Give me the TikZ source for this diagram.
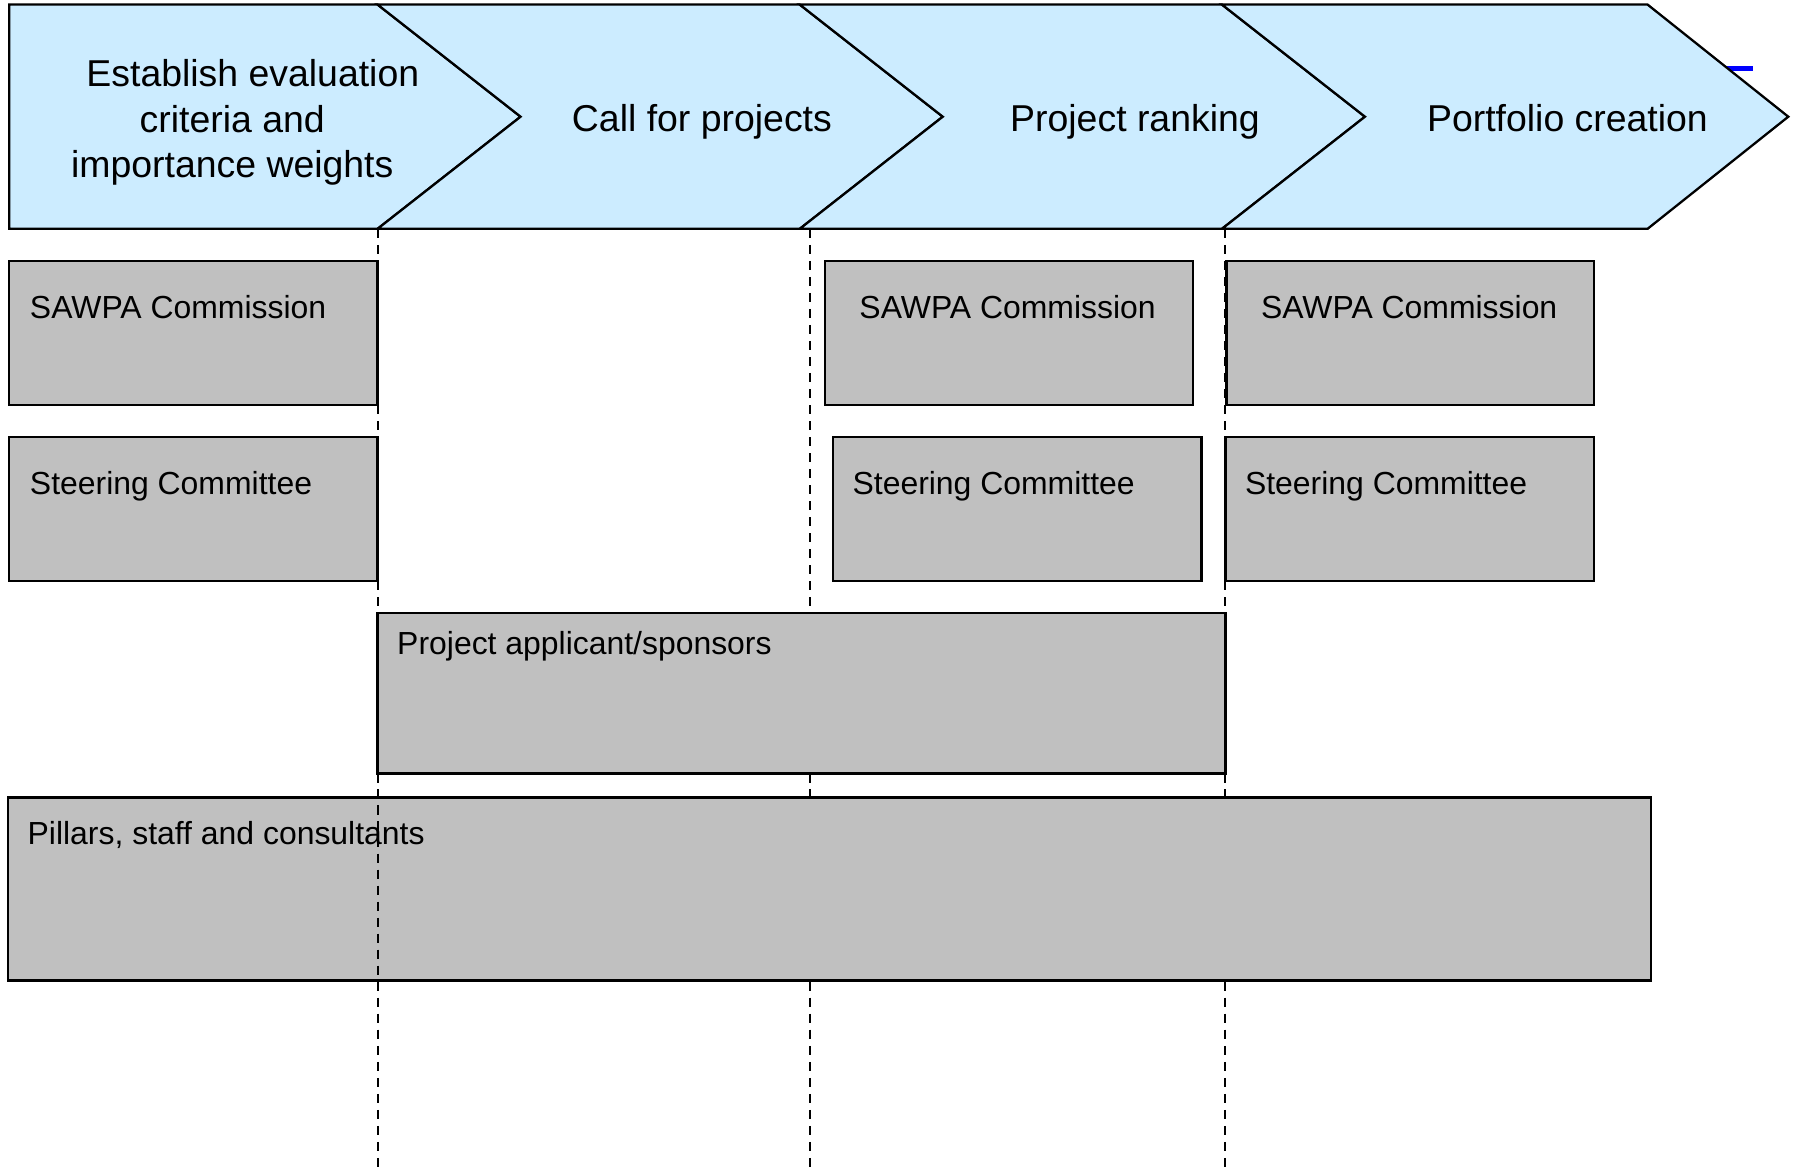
\documentclass[tikz,border=0pt]{standalone}
\usepackage{fontspec}
\setmainfont{Liberation Sans}
\definecolor{chevblue}{RGB}{204,236,255}
\definecolor{boxgray}{RGB}{192,192,192}
\definecolor{markblue}{RGB}{0,0,255}
\begin{document}
\begin{tikzpicture}[x=1pt,y=-1pt,
  chev/.style={draw=black,line width=2pt,fill=chevblue,line join=miter},
  box/.style={draw=black,line width=2pt,fill=boxgray,inner sep=0pt,outer sep=0pt,anchor=north west},
  guide/.style={dash pattern=on 8pt off 6pt,line width=1.8pt},
  boxlabel/.style={font=\fontsize{27.9}{33}\selectfont,anchor=base west,inner sep=0pt},
  steplabel/.style={font=\fontsize{32.7}{39.5}\selectfont,inner sep=0pt}]
\useasboundingbox (0,0) rectangle (1568,1022.6);
% small blue mark behind the last chevron
\coordinate (bm1) at (1490,60);
\coordinate (bm2) at (1532,60);
\draw[markblue,line width=4pt] (bm1) -- (bm2);
% chevrons
\draw[chev] (8,4) -- (330,4) -- (455,102) -- (330,200) -- (8,200) -- cycle;
\draw[chev] (330,4) -- (699,4) -- (824,102) -- (699,200) -- (330,200) -- (455,102) -- cycle;
\draw[chev] (699,4) -- (1068,4) -- (1193,102) -- (1068,200) -- (699,200) -- (824,102) -- cycle;
\draw[chev] (1068,4) -- (1440,4) -- (1563,102) -- (1440,200) -- (1068,200) -- (1193,102) -- cycle;
\node[steplabel,align=center,anchor=center] (s1) at (203,107)
  {\hspace*{36pt}Establish evaluation\\criteria and\hspace*{14pt}\\importance weights};
\node[steplabel,anchor=base] (s2) at (613.5,114.5) {Call for projects};
\node[steplabel,anchor=base] (s3) at (992,114.5) {Project ranking};
\node[steplabel,anchor=base] (s4) at (1370,114.5) {Portfolio creation};
% guide coordinates
\coordinate (g1a) at (330,200); \coordinate (g1b) at (330,1023);
\coordinate (g2a) at (708,200); \coordinate (g2b) at (708,1023);
\coordinate (g3a) at (1071,200); \coordinate (g3b) at (1071,1023);
\draw[guide] (g2a) -- (g2b);
\draw[guide] (g3a) -- (g3b);
% boxes
\node[box,minimum width=322pt,minimum height=126pt] (sawpa1) at (8,228) {};
\node[box,minimum width=322pt,minimum height=126pt] (steer1) at (8,382) {};
\node[box,minimum width=322pt,minimum height=126pt] (sawpa2) at (721,228) {};
\node[box,minimum width=322pt,minimum height=126pt] (steer2) at (728,382) {};
\node[box,minimum width=321pt,minimum height=126pt] (sawpa3) at (1072,228) {};
\node[box,minimum width=322pt,minimum height=126pt] (steer3) at (1071,382) {};
\node[box,minimum width=741pt,minimum height=140pt] (proj) at (330,536) {};
\node[box,minimum width=1436pt,minimum height=160pt] (pillars) at (7,697) {};
% box labels
\node[boxlabel] (sawpa1t) at ([xshift=18pt,yshift=-50pt]sawpa1.north west) {SAWPA Commission};
\node[boxlabel] (steer1t) at ([xshift=18pt,yshift=-50pt]steer1.north west) {Steering Committee};
\node[boxlabel] (sawpa2t) at ([xshift=30pt,yshift=-50pt]sawpa2.north west) {SAWPA Commission};
\node[boxlabel] (steer2t) at ([xshift=17pt,yshift=-50pt]steer2.north west) {Steering Committee};
\node[boxlabel] (sawpa3t) at ([xshift=30pt,yshift=-50pt]sawpa3.north west) {SAWPA Commission};
\node[boxlabel] (steer3t) at ([xshift=17pt,yshift=-50pt]steer3.north west) {Steering Committee};
\node[boxlabel] (projt) at ([xshift=17pt,yshift=-36pt]proj.north west) {Project applicant/sponsors};
\node[boxlabel] (pillarst) at ([xshift=17pt,yshift=-41pt]pillars.north west) {Pillars, staff and consultants};
% first guide on top
\draw[guide] (g1a) -- (g1b);
\end{tikzpicture}
\end{document}
